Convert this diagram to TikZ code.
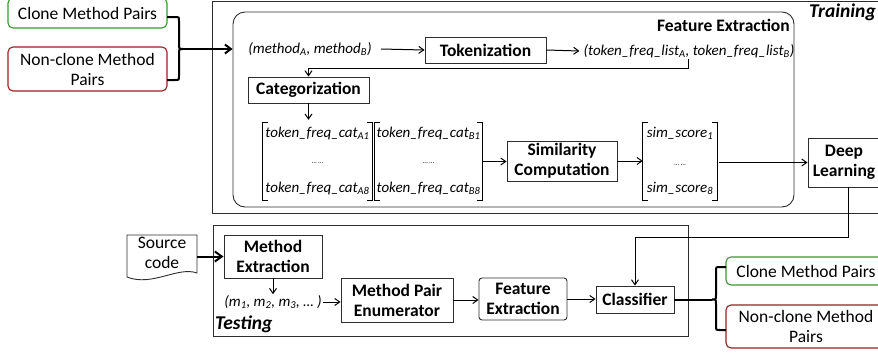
\documentclass[tikz,border=0pt]{standalone}
\usepackage{fontspec}
\setmainfont{Carlito}
\usetikzlibrary{arrows.meta}
\definecolor{cgreen}{RGB}{56,150,48}
\definecolor{cred}{RGB}{150,32,32}
\definecolor{edge}{RGB}{45,45,45}
\begin{document}
\begin{tikzpicture}[x=1pt,y=-1pt,
  lab/.style={font=\fontsize{17.5}{20}\selectfont, align=center},
  blab/.style={font=\fontsize{17.5}{20}\selectfont\bfseries, align=center},
  dat/.style={font=\fontsize{15}{18}\selectfont\itshape, inner sep=1pt},
  dotsty/.style={font=\fontsize{7}{8}\selectfont, inner sep=0pt},
  box/.style={draw=edge, line width=0.9pt, blab, inner sep=0pt},
  outbox/.style={draw, line width=1.1pt, rounded corners=5pt, lab, inner sep=0pt},
  frame/.style={draw=edge, line width=0.9pt},
  arr/.style={-{Straight Barb[length=5pt,width=7pt]}, line width=1pt},
  thk/.style={line width=2pt},
  brk/.style={line width=1.2pt}]
\useasboundingbox (0,0) rectangle (878,354);
\clip (0,0) rectangle (878,354);

% ---------- Training ----------
\node[frame, minimum width=668pt, minimum height=212pt, inner sep=0pt] (train) at (546,107) {};
\node[frame, rounded corners=12pt, minimum width=561pt, minimum height=195pt, inner sep=0pt] (fe) at (513.5,109.5) {};
\node[blab, anchor=east, inner sep=0pt] (felab) at (790,25) {Feature Extraction};
\node[font=\fontsize{19.5}{22}\selectfont\bfseries\itshape, anchor=east, inner sep=0pt] (trainlab) at (876,12) {Training};

\node[outbox, draw=cgreen, minimum width=159pt, minimum height=30pt] (cmp1) at (87.5,13) {Clone Method Pairs};
\node[outbox, draw=cred, minimum width=159pt, minimum height=44pt] (ncmp1) at (87.5,69) {Non-clone Method\\Pairs};

\coordinate (b1) at (167,17);
\coordinate (b2) at (167,80);
\coordinate (btip) at (183,49);
\draw[thk] (b1) -- (175,17) .. controls (179,17) .. (179,21) -- (179,44)
  .. controls (179,49) .. (btip) .. controls (179,49) .. (179,54) -- (179,76)
  .. controls (179,80) .. (175,80) -- (b2);
\draw[thk, -{Straight Barb[length=6pt,width=9pt]}] (btip) -- (btip -| fe.west);

\node[dat] (mab) at (310,49) {(method\textsubscript{A}, method\textsubscript{B})};
\node[box, minimum width=121pt, minimum height=26pt] (tok) at (485.5,50) {Tokenization};
\node[dat] (tfl) at (689,51) {(token\_freq\_list\textsubscript{A}, token\_freq\_list\textsubscript{B})};
\node[box, minimum width=121pt, minimum height=26pt] (cat) at (308.5,90) {Categorization};

\draw[arr] ([xshift=8pt]mab.east) -- (tok.west);
\draw[arr] (tok.east) -- ([xshift=-3pt]tfl.west);
\coordinate (turn) at (688,68);
\draw[arr] (turn |- tfl.south) -- (turn) -| (cat.north);

% matrices
\node[minimum width=109pt, minimum height=77pt, inner sep=0pt] (matA) at (317.5,161.5) {};
\node[minimum width=107pt, minimum height=77pt, inner sep=0pt] (matB) at (428.5,161.5) {};
\node[minimum width=74pt, minimum height=77pt, inner sep=0pt] (simm) at (680,161.5) {};
\foreach \m in {matA,matB,simm}{
  \draw[brk] ([xshift=5pt]\m.north west) -- (\m.north west) -- (\m.south west) -- ([xshift=5pt]\m.south west);
  \draw[brk] ([xshift=-5pt]\m.north east) -- (\m.north east) -- (\m.south east) -- ([xshift=-5pt]\m.south east);
}
\node[dat] (a1) at (317.5,133) {token\_freq\_cat\textsubscript{A1}};
\node[dotsty] (a2) at (317.5,163) {… …};
\node[dat] (a3) at (317.5,188) {token\_freq\_cat\textsubscript{A8}};
\node[dat] (bb1) at (428.5,133) {token\_freq\_cat\textsubscript{B1}};
\node[dotsty] (bb2) at (428.5,163) {… …};
\node[dat] (bb3) at (428.5,188) {token\_freq\_cat\textsubscript{B8}};
\node[dat] (s1) at (680,133) {sim\_score\textsubscript{1}};
\node[dotsty] (s2) at (680,165) {… …};
\node[dat] (s3) at (680,188) {sim\_score\textsubscript{8}};

\draw[arr] (cat.south) -- ([yshift=3pt]cat.south |- matA.north);

\node[box, minimum width=110pt, minimum height=40pt] (sim) at (562,161) {Similarity\\Computation};
\draw[arr] (matB.east) -- (matB.east -| sim.west);
\draw[arr] (sim.east) -- (sim.east -| simm.west);

\node[box, minimum width=72pt, minimum height=49pt] (dl) at (844,162.5) {Deep\\Learning};
\draw[arr] ([xshift=2pt]simm.east |- dl.west) -- (dl.west);

% ---------- Testing ----------
\node[frame, minimum width=475pt, minimum height=111pt, inner sep=0pt] (test) at (450.5,280.5) {};
\node[font=\fontsize{19.5}{22}\selectfont\bfseries\itshape, anchor=west, inner sep=0pt] (testlab) at (215,324) {Testing};

\draw[frame] (127,235) -- (197,235) -- (197,273) .. controls (178,266) and (152,287) .. (127,277) -- cycle;
\node[lab, minimum width=70pt, inner sep=0pt] (src) at (162,253) {Source\\code};

\node[box, minimum width=98pt, minimum height=43pt] (me) at (273,256.5) {Method\\Extraction};
\draw[thk, -{Straight Barb[length=7pt,width=10pt]}] (src.east |- me.west) -- (me.west);

\node[dat] (ml) at (273,302) {(m\textsubscript{1}, m\textsubscript{2}, m\textsubscript{3}, … )};
\draw[arr] (me.south) -- (ml.north);

\node[box, minimum width=112pt, minimum height=44pt] (mpe) at (397,300) {Method Pair\\Enumerator};
\node[box, rounded corners=3pt, minimum width=88pt, minimum height=42pt] (fe2) at (523,299) {Feature\\Extraction};
\node[box, minimum width=78pt, minimum height=27pt] (cls) at (635,299.5) {Classifier};

\draw[arr] (ml.east) -- (ml.east -| mpe.west);
\draw[arr] (mpe.east) -- (mpe.east -| fe2.west);
\draw[arr] (fe2.east) -- (fe2.east -| cls.west);

\draw[arr] ([xshift=4pt]dl.south) -- ++(0,50) -| (cls.north);

\node[outbox, draw=cgreen, minimum width=160pt, minimum height=28pt] (cmp2) at (806,271) {Clone Method Pairs};
\node[outbox, draw=cred, minimum width=160pt, minimum height=43pt] (ncmp2) at (806,326.5) {Non-clone Method\\Pairs};

\coordinate (c1) at (726,267);
\coordinate (c2) at (726,330);
\coordinate (ctip) at (712,299.5);
\draw[thk] (cls.east) -- (ctip);
\draw[thk] (c1) -- (720,267) .. controls (716,267) .. (716,271) -- (716,295)
  .. controls (716,299.5) .. (ctip) .. controls (716,299.5) .. (716,304) -- (716,326)
  .. controls (716,330) .. (720,330) -- (c2);
\end{tikzpicture}
\end{document}
